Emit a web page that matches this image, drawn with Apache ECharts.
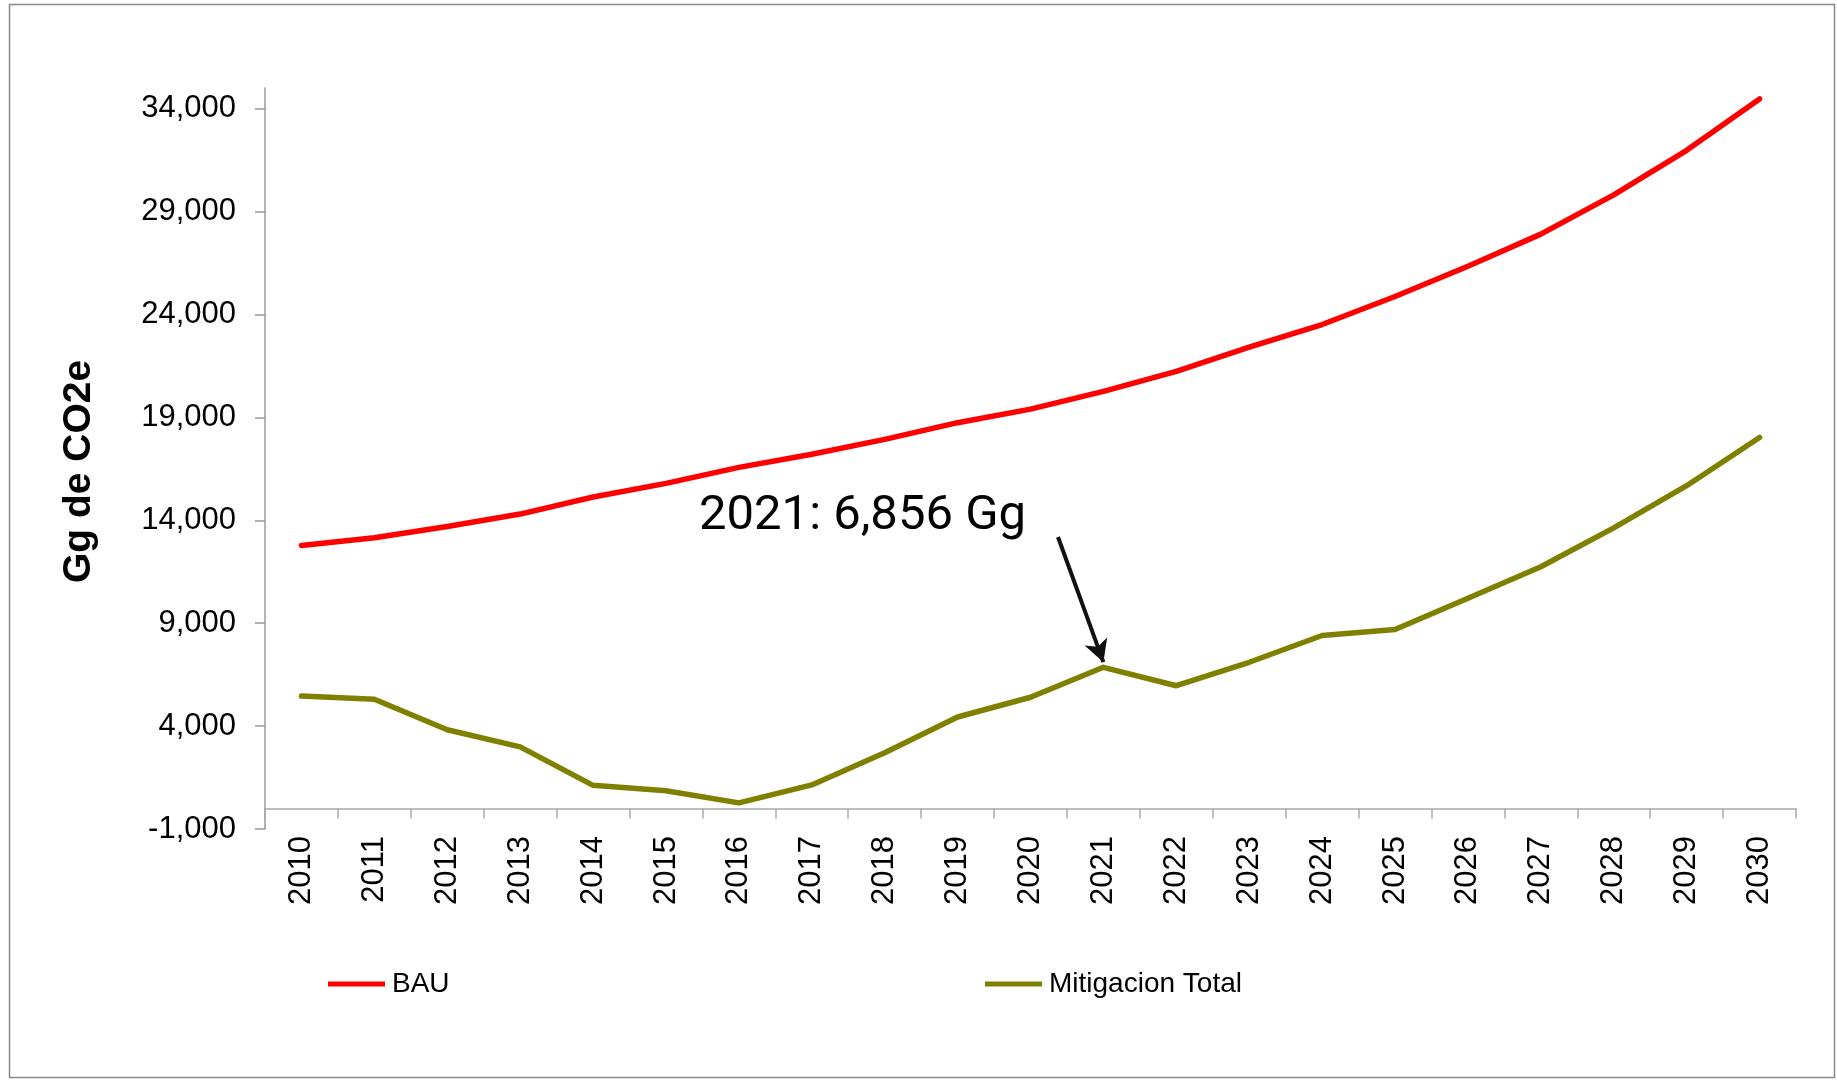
<!DOCTYPE html>
<html>
<head>
<meta charset="utf-8">
<title>BAU vs Mitigacion Total</title>
<script src="https://cdn.jsdelivr.net/npm/echarts@6/dist/echarts.min.js"></script>
<style>
  html, body { margin: 0; padding: 0; background: #fff; }
  #chart { width: 1837px; height: 1083px; }
</style>
</head>
<body>
<div id="chart"></div>
<script>
// data (Gg de CO2e)
const years = ['2010', '2011', '2012', '2013', '2014', '2015', '2016', '2017', '2018', '2019', '2020',
  '2021', '2022', '2023', '2024', '2025', '2026', '2027', '2028', '2029', '2030']
const bau = [12770, 13150, 13700, 14300, 15130, 15790, 16570, 17210, 17930, 18740, 19400,
  20260, 21230, 22410, 23510, 24870, 26340, 27900, 29810, 31970, 34470]
const mitigacion = [5460, 5300, 3820, 2990, 1120, 860, 270, 1140, 2700, 4440, 5400,
  6856, 5960, 7100, 8400, 8690, 10210, 11740, 13630, 15680, 18020]
const yTicks = [-1000, 4000, 9000, 14000, 19000, 24000, 29000, 34000]

// annotation
const noteYear = '2021'
const noteValue = 6856
const noteText = '2021: 6,856 Gg'

const FONT = 'Liberation Sans, Arial, sans-serif'
const fmt = (v) => Number(v).toLocaleString('en-US')

const chart = echarts.init(document.getElementById('chart'))

chart.setOption({
  backgroundColor: '#fff',
  animation: false,
  grid: { left: 265, right: 41, top: 88, bottom: 254 },
  legend: [
    {
      left: 323,
      top: 965,
      data: ['BAU'],
      icon: 'rect',
      itemWidth: 57,
      itemHeight: 5,
      textStyle: { fontFamily: FONT, fontSize: 28, color: '#000', padding: [0, 0, 0, 2] },
    },
    {
      left: 980,
      top: 965,
      data: ['Mitigacion Total'],
      icon: 'rect',
      itemWidth: 57,
      itemHeight: 5,
      textStyle: { fontFamily: FONT, fontSize: 28, color: '#000', padding: [0, 0, 0, 2] },
    },
  ],
  xAxis: {
    type: 'category',
    data: years,
    boundaryGap: true,
    axisLine: { onZero: true, lineStyle: { color: '#aaa', width: 1.5 } },
    axisTick: { show: true, length: 10, lineStyle: { color: '#aaa', width: 1.5 } },
    axisLabel: {
      rotate: 90,
      margin: 7,
      interval: 0,
      color: '#000',
      fontFamily: FONT,
      fontSize: 31,
    },
    splitLine: { show: false },
  },
  yAxis: {
    type: 'value',
    min: -1000,
    max: 35000,
    interval: 5000,
    name: 'Gg de CO2e',
    nameLocation: 'middle',
    nameRotate: 90,
    nameGap: 166,
    nameTextStyle: {
      fontFamily: FONT,
      fontSize: 39,
      fontWeight: 'bold',
      color: '#000',
      padding: [0, 26, 0, 0],
    },
    axisLine: { show: true, lineStyle: { color: '#999', width: 1.5 } },
    axisTick: {
      show: true,
      inside: false,
      length: 10,
      customValues: yTicks,
      lineStyle: { color: '#999', width: 1.5 },
    },
    axisLabel: {
      customValues: yTicks,
      margin: 29,
      color: '#000',
      fontFamily: FONT,
      fontSize: 31,
      formatter: (v) => fmt(v),
    },
    splitLine: { show: false },
  },
  series: [
    {
      name: 'BAU',
      type: 'line',
      data: bau,
      symbol: 'none',
      color: '#ff0000',
      lineStyle: { color: '#ff0000', width: 5.5, cap: 'round', join: 'round' },
    },
    {
      name: 'Mitigacion Total',
      type: 'line',
      data: mitigacion,
      symbol: 'none',
      color: '#808000',
      lineStyle: { color: '#808000', width: 5.5, cap: 'round', join: 'round' },
      markLine: {
        silent: true,
        symbol: ['none', 'arrow'],
        symbolSize: [18, 22],
        label: { show: false },
        lineStyle: { color: '#111', width: 4, type: 'solid' },
        data: [
          [
            { x: 1058, y: 537 },
            { coord: [noteYear, noteValue + 250] },
          ],
        ],
      },
    },
  ],
  graphic: [
    {
      type: 'rect',
      silent: true,
      shape: { x: 9.5, y: 4.5, width: 1825, height: 1073 },
      style: { fill: 'none', stroke: '#888', lineWidth: 1.5 },
    },
    {
      type: 'text',
      silent: true,
      style: {
        x: 699,
        y: 517,
        text: noteText,
        font: '49px Roboto, sans-serif',
        fill: '#000',
        verticalAlign: 'middle',
      },
    },
  ],
})
</script>
</body>
</html>
